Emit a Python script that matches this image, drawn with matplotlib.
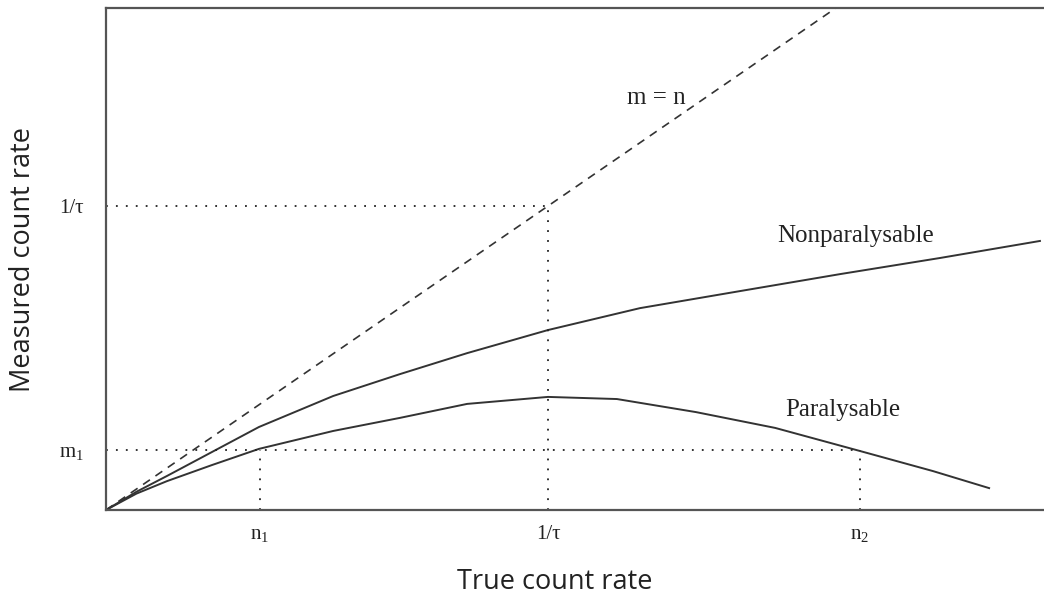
import matplotlib
matplotlib.use("Agg")
import matplotlib.pyplot as plt

# true count rate in units of 1/tau, measured rate in the same units
n_nonpar = [0.0, 0.069, 0.138, 0.346, 0.514, 0.665, 0.817, 1.0, 1.208, 1.434, 1.661, 1.887, 2.113]
m_nonpar = [0.0, 0.060, 0.112, 0.273, 0.375, 0.447, 0.516, 0.592, 0.664, 0.720, 0.776, 0.829, 0.885]

n_par = [0.0, 0.069, 0.138, 0.240, 0.346, 0.514, 0.665, 0.817, 1.0, 1.156, 1.335, 1.514, 1.706, 1.871, 1.998]
m_par = [0.0, 0.054, 0.095, 0.148, 0.201, 0.260, 0.303, 0.349, 0.372, 0.365, 0.322, 0.270, 0.194, 0.128, 0.072]

n1 = 0.348
inv_tau = 1.0
n2 = 1.706
m1 = 0.197

xticks = [n1, inv_tau, n2]
xtick_labels = [r'$\mathrm{n_1}$', '1/τ', r'$\mathrm{n_2}$']
yticks = [m1, inv_tau]
ytick_labels = [r'$\mathrm{m_1}$', '1/τ']

plt.rcParams['mathtext.fontset'] = 'custom'
plt.rcParams['mathtext.rm'] = 'Liberation Serif'
plt.rcParams['mathtext.it'] = 'Liberation Serif:italic'

fig = plt.figure(figsize=(10.44, 5.99), dpi=100)
ax = fig.add_axes([106/1044, 89/599, 938/1044, 502/599])
xmax = 938/442
ymax = 502/304
ax.set_xlim(0, xmax)
ax.set_ylim(0, ymax)

line_col = '#333333'
ax.plot([0, xmax], [0, xmax], color=line_col, lw=1.2, ls=(0, (5, 4)))
ax.plot(n_nonpar, m_nonpar, color=line_col, lw=1.4)
ax.plot(n_par, m_par, color=line_col, lw=1.4)

dot = dict(color='#222222', lw=1.3, ls=(0, (1, 4.5)))
ax.plot([0, inv_tau], [inv_tau, inv_tau], **dot)
ax.plot([inv_tau, inv_tau], [0, inv_tau], **dot)
ax.plot([0, n2], [m1, m1], **dot)
ax.plot([n1, n1], [0, m1], **dot)
ax.plot([n2, n2], [0, m1], **dot)

serif = 'Liberation Serif'
ax.text(1.244, 1.355, 'm = n', family=serif, fontsize=18, ha='center', va='center', color='#222222')
ax.text(1.697, 0.901, 'Nonparalysable', family=serif, fontsize=18, ha='center', va='center', color='#222222')
ax.text(1.667, 0.328, 'Paralysable', family=serif, fontsize=18, ha='center', va='center', color='#222222')

ax.set_xticks(xticks)
ax.set_xticklabels(xtick_labels, family=serif, fontsize=15)
ax.set_yticks(yticks)
ax.set_yticklabels(ytick_labels, family=serif, fontsize=15)
ax.tick_params(axis='x', length=0, pad=11, colors='#222222')
ax.tick_params(axis='y', length=0, pad=16, colors='#222222')

for s in ['left', 'bottom', 'top']:
    ax.spines[s].set_color('#555555')
    ax.spines[s].set_linewidth(1.6)
ax.spines['right'].set_visible(False)

ax.set_xlabel('True count rate', family='Open Sans', fontsize=19.5, color='#222222')
ax.xaxis.set_label_coords((555 - 106) / 938, -(568 - 510) / 502)
ax.set_ylabel('Measured count rate', family='Open Sans', fontsize=19.5, color='#222222')
ax.yaxis.set_label_coords(-(106 - 37) / 938, 0.5)

fig.savefig('out.png', dpi=100)
